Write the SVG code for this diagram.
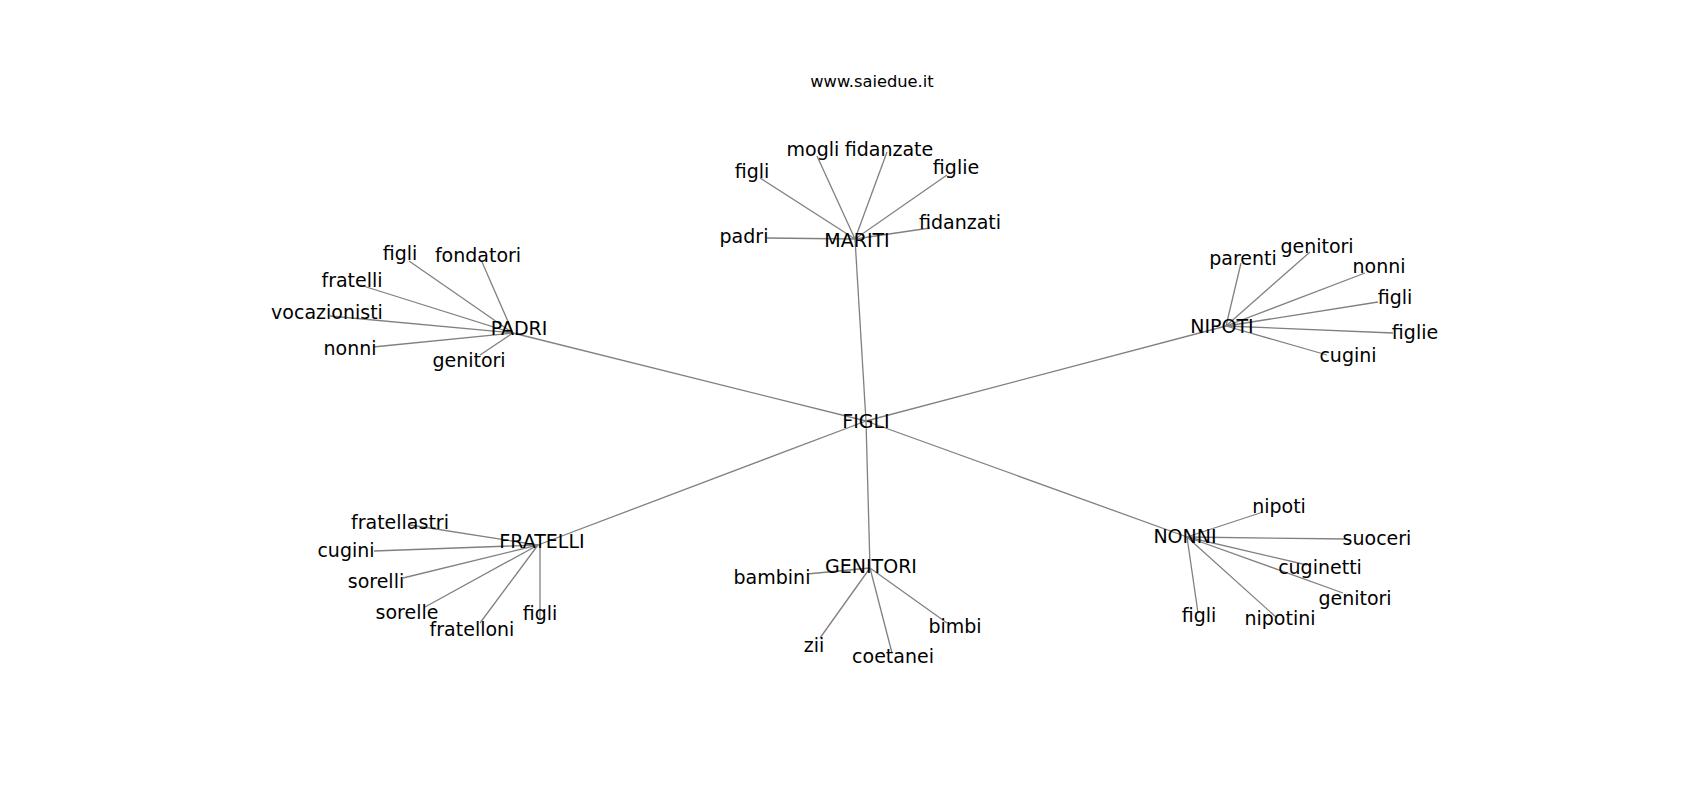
<svg xmlns="http://www.w3.org/2000/svg" width="1700" height="800" viewBox="0 0 1700 800">
<style>
text{font-family:"DejaVu Sans","Liberation Sans",sans-serif;fill:#000;text-anchor:middle}
.n text{font-size:19px}
.t{font-size:16.3px}
#edges line{stroke:#808080;stroke-width:1.3}
</style>
<rect width="1700" height="800" fill="#fff"/>
<text class="t" x="872" y="87">www.saiedue.it</text>
<g id="edges">
<line x1="866" y1="421" x2="513" y2="333"/>
<line x1="866" y1="421" x2="855" y2="239"/>
<line x1="866" y1="421" x2="1226" y2="326"/>
<line x1="866" y1="421" x2="538" y2="545"/>
<line x1="866" y1="421" x2="870" y2="568"/>
<line x1="866" y1="421" x2="1187" y2="537"/>
<line x1="513" y1="333" x2="409" y2="261"/>
<line x1="513" y1="333" x2="482" y2="262"/>
<line x1="513" y1="333" x2="360" y2="285"/>
<line x1="513" y1="333" x2="330" y2="316"/>
<line x1="513" y1="333" x2="373" y2="347"/>
<line x1="513" y1="333" x2="480" y2="355"/>
<line x1="855" y1="239" x2="817" y2="156"/>
<line x1="855" y1="239" x2="887" y2="152"/>
<line x1="855" y1="239" x2="760" y2="178"/>
<line x1="855" y1="239" x2="947" y2="175"/>
<line x1="855" y1="239" x2="930" y2="228"/>
<line x1="855" y1="239" x2="767" y2="238"/>
<line x1="1226" y1="326" x2="1241" y2="263"/>
<line x1="1226" y1="326" x2="1310" y2="252"/>
<line x1="1226" y1="326" x2="1365" y2="273"/>
<line x1="1226" y1="326" x2="1378" y2="302"/>
<line x1="1226" y1="326" x2="1393" y2="333"/>
<line x1="1226" y1="326" x2="1327" y2="355"/>
<line x1="538" y1="545" x2="410" y2="525"/>
<line x1="538" y1="545" x2="374" y2="551"/>
<line x1="538" y1="545" x2="403" y2="578"/>
<line x1="538" y1="545" x2="425" y2="607"/>
<line x1="538" y1="545" x2="480" y2="623"/>
<line x1="540" y1="545" x2="540" y2="618"/>
<line x1="870" y1="568" x2="807" y2="574"/>
<line x1="870" y1="568" x2="820" y2="638"/>
<line x1="870" y1="568" x2="892" y2="653"/>
<line x1="870" y1="568" x2="947" y2="623"/>
<line x1="1187" y1="537" x2="1263" y2="512"/>
<line x1="1187" y1="537" x2="1347" y2="539"/>
<line x1="1187" y1="537" x2="1307" y2="565"/>
<line x1="1187" y1="537" x2="1343" y2="593"/>
<line x1="1187" y1="537" x2="1198" y2="613"/>
<line x1="1187" y1="537" x2="1277" y2="618"/>
</g>
<g class="n" id="n-figli"><text x="866" y="428">FIGLI</text></g>
<g class="n" id="n-padri"><text x="519" y="335">PADRI</text></g>
<g class="n" id="n-padri-figli"><text x="400" y="260">figli</text></g>
<g class="n" id="n-padri-fondatori"><text x="478" y="262">fondatori</text></g>
<g class="n" id="n-padri-fratelli"><text x="352" y="287">fratelli</text></g>
<g class="n" id="n-padri-vocazionisti"><text x="327" y="319">vocazionisti</text></g>
<g class="n" id="n-padri-nonni"><text x="350" y="355">nonni</text></g>
<g class="n" id="n-padri-genitori"><text x="469" y="367">genitori</text></g>
<g class="n" id="n-mariti"><text x="857" y="247">MARITI</text></g>
<g class="n" id="n-mariti-mogli"><text x="813" y="156">mogli</text></g>
<g class="n" id="n-mariti-fidanzate"><text x="889" y="156">fidanzate</text></g>
<g class="n" id="n-mariti-figli"><text x="752" y="178">figli</text></g>
<g class="n" id="n-mariti-figlie"><text x="956" y="174">figlie</text></g>
<g class="n" id="n-mariti-fidanzati"><text x="960" y="229">fidanzati</text></g>
<g class="n" id="n-mariti-padri"><text x="744" y="243">padri</text></g>
<g class="n" id="n-nipoti"><text x="1222" y="333">NIPOTI</text></g>
<g class="n" id="n-nipoti-parenti"><text x="1243" y="265">parenti</text></g>
<g class="n" id="n-nipoti-genitori"><text x="1317" y="253">genitori</text></g>
<g class="n" id="n-nipoti-nonni"><text x="1379" y="273">nonni</text></g>
<g class="n" id="n-nipoti-figli"><text x="1395" y="304">figli</text></g>
<g class="n" id="n-nipoti-figlie"><text x="1415" y="339">figlie</text></g>
<g class="n" id="n-nipoti-cugini"><text x="1348" y="362">cugini</text></g>
<g class="n" id="n-fratelli"><text x="542" y="548">FRATELLI</text></g>
<g class="n" id="n-fratelli-fratellastri"><text x="400" y="529">fratellastri</text></g>
<g class="n" id="n-fratelli-cugini"><text x="346" y="557">cugini</text></g>
<g class="n" id="n-fratelli-sorelli"><text x="376" y="588">sorelli</text></g>
<g class="n" id="n-fratelli-sorelle"><text x="407" y="619">sorelle</text></g>
<g class="n" id="n-fratelli-fratelloni"><text x="472" y="636">fratelloni</text></g>
<g class="n" id="n-fratelli-figli"><text x="540" y="620">figli</text></g>
<g class="n" id="n-genitori"><text x="871" y="573">GENITORI</text></g>
<g class="n" id="n-genitori-bambini"><text x="772" y="584">bambini</text></g>
<g class="n" id="n-genitori-zii"><text x="814" y="652">zii</text></g>
<g class="n" id="n-genitori-coetanei"><text x="893" y="663">coetanei</text></g>
<g class="n" id="n-genitori-bimbi"><text x="955" y="633">bimbi</text></g>
<g class="n" id="n-nonni"><text x="1185" y="543">NONNI</text></g>
<g class="n" id="n-nonni-nipoti"><text x="1279" y="513">nipoti</text></g>
<g class="n" id="n-nonni-suoceri"><text x="1377" y="545">suoceri</text></g>
<g class="n" id="n-nonni-cuginetti"><text x="1320" y="574">cuginetti</text></g>
<g class="n" id="n-nonni-genitori"><text x="1355" y="605">genitori</text></g>
<g class="n" id="n-nonni-figli"><text x="1199" y="622">figli</text></g>
<g class="n" id="n-nonni-nipotini"><text x="1280" y="625">nipotini</text></g>
</svg>
